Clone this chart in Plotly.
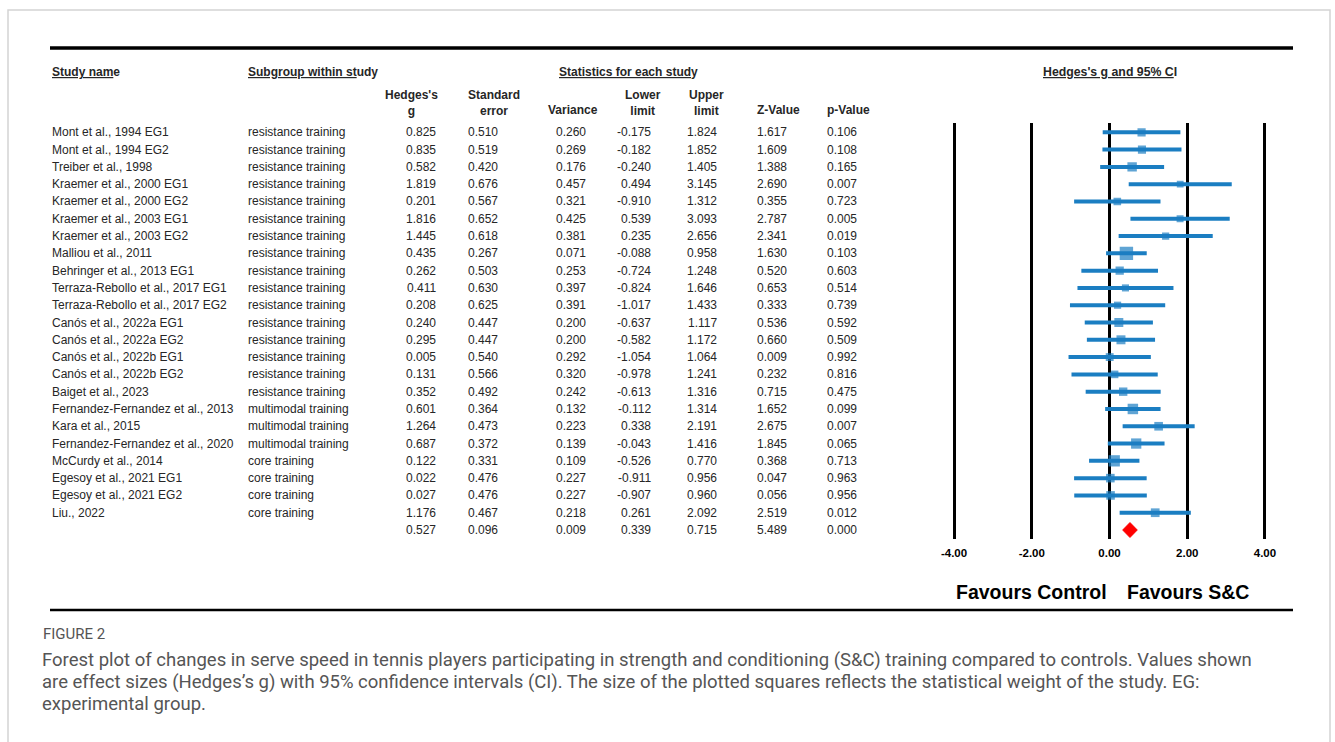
import plotly.graph_objects as go
import numpy as np

# ---------------- data ----------------
studies = [
    "Mont et al., 1994 EG1", "Mont et al., 1994 EG2", "Treiber et al., 1998",
    "Kraemer et al., 2000 EG1", "Kraemer et al., 2000 EG2", "Kraemer et al., 2003 EG1",
    "Kraemer et al., 2003 EG2", "Malliou et al., 2011", "Behringer et al., 2013 EG1",
    "Terraza-Rebollo et al., 2017 EG1", "Terraza-Rebollo et al., 2017 EG2",
    "Canós et al., 2022a EG1", "Canós et al., 2022a EG2", "Canós et al., 2022b EG1",
    "Canós et al., 2022b EG2", "Baiget et al., 2023", "Fernandez-Fernandez et al., 2013",
    "Kara et al., 2015", "Fernandez-Fernandez et al., 2020", "McCurdy et al., 2014",
    "Egesoy et al., 2021 EG1", "Egesoy et al., 2021 EG2", "Liu., 2022",
]
subgroups = ["resistance training"] * 16 + ["multimodal training"] * 3 + ["core training"] * 4
hedges_g = [0.825, 0.835, 0.582, 1.819, 0.201, 1.816, 1.445, 0.435, 0.262, 0.411, 0.208,
            0.240, 0.295, 0.005, 0.131, 0.352, 0.601, 1.264, 0.687, 0.122, 0.022, 0.027, 1.176]
std_err = [0.510, 0.519, 0.420, 0.676, 0.567, 0.652, 0.618, 0.267, 0.503, 0.630, 0.625,
           0.447, 0.447, 0.540, 0.566, 0.492, 0.364, 0.473, 0.372, 0.331, 0.476, 0.476, 0.467]
variance = [0.260, 0.269, 0.176, 0.457, 0.321, 0.425, 0.381, 0.071, 0.253, 0.397, 0.391,
            0.200, 0.200, 0.292, 0.320, 0.242, 0.132, 0.223, 0.139, 0.109, 0.227, 0.227, 0.218]
lower_limit = [-0.175, -0.182, -0.240, 0.494, -0.910, 0.539, 0.235, -0.088, -0.724, -0.824, -1.017,
               -0.637, -0.582, -1.054, -0.978, -0.613, -0.112, 0.338, -0.043, -0.526, -0.911, -0.907, 0.261]
upper_limit = [1.824, 1.852, 1.405, 3.145, 1.312, 3.093, 2.656, 0.958, 1.248, 1.646, 1.433,
               1.117, 1.172, 1.064, 1.241, 1.316, 1.314, 2.191, 1.416, 0.770, 0.956, 0.960, 2.092]
z_value = [1.617, 1.609, 1.388, 2.690, 0.355, 2.787, 2.341, 1.630, 0.520, 0.653, 0.333,
           0.536, 0.660, 0.009, 0.232, 0.715, 1.652, 2.675, 1.845, 0.368, 0.047, 0.056, 2.519]
p_value = [0.106, 0.108, 0.165, 0.007, 0.723, 0.005, 0.019, 0.103, 0.603, 0.514, 0.739,
           0.592, 0.509, 0.992, 0.816, 0.475, 0.099, 0.007, 0.065, 0.713, 0.963, 0.956, 0.012]

summary_g = 0.527
summary_se = 0.096
summary_var = 0.009
summary_lower = 0.339
summary_upper = 0.715
summary_z = 5.489
summary_p = 0.000

tick_vals = [-4, -2, 0, 2, 4]
tick_labels = ["-4.00", "-2.00", "0.00", "2.00", "4.00"]

# ---------------- layout helpers ----------------
W, H = 1335, 742
def xp(px):
    return px / W
def yp(py):
    return 1 - py / H

BLUE = "#1b7ec2"
TXT = "#262626"
FONT = "Liberation Sans, Arial, sans-serif"

n = len(studies)
rows = list(range(n))
summary_row = n

fig = go.Figure()

# CI lines
cx, cy = [], []
for r, lo, hi in zip(rows, lower_limit, upper_limit):
    cx += [lo, hi, None]
    cy += [r, r, None]
fig.add_trace(go.Scatter(x=cx, y=cy, mode="lines", line=dict(color=BLUE, width=4),
                         hoverinfo="skip", showlegend=False))

# squares sized by weight
weights = 1 / np.array(variance)
sizes = 2.5 + 2.9 * np.sqrt(weights)
fig.add_trace(go.Scatter(x=hedges_g, y=rows, mode="markers",
                         marker=dict(symbol="square", size=sizes, color=BLUE, line=dict(width=0)),
                         showlegend=False, hoverinfo="x"))

# summary diamond
dh = 0.43
fig.add_trace(go.Scatter(
    x=[summary_lower, summary_g, summary_upper, summary_g, summary_lower],
    y=[summary_row, summary_row - dh, summary_row, summary_row + dh, summary_row],
    mode="lines", fill="toself", fillcolor="#ff0000", line=dict(color="#ff0000", width=1),
    showlegend=False, hoverinfo="skip"))

fig.update_layout(
    width=W, height=H, autosize=False,
    margin=dict(l=0, r=0, t=0, b=0),
    paper_bgcolor="white", plot_bgcolor="rgba(0,0,0,0)",
    xaxis=dict(domain=[xp(934.6), xp(1284.4)], range=[-4.5, 4.5],
               tickvals=tick_vals, ticktext=["<b>%s</b>" % t for t in tick_labels],
               showgrid=True, gridcolor="black", gridwidth=2.5,
               zeroline=False, showline=False, ticks="", ticklabelstandoff=5,
               tickfont=dict(family=FONT, size=11.5, color="black")),
    yaxis=dict(domain=[yp(539), yp(122.7)], range=[23.52, -0.555], visible=False),
)

ann = []
def add(text, x, y, xanchor="left", yref="y", size=12, color=TXT, yanchor="middle", align="left"):
    ann.append(dict(text=text, x=x, y=y, xref="paper", yref=yref, xanchor=xanchor,
                    yanchor=yanchor, showarrow=False, align=align,
                    font=dict(family=FONT, size=size, color=color), borderpad=0))

# column right edges (px)
col_right = [437, 499, 587, 652, 718, 788, 858]
cols = [hedges_g, std_err, variance, lower_limit, upper_limit, z_value, p_value]
for r in rows:
    add(studies[r], xp(51), r)
    add(subgroups[r], xp(247), r)
    for cr, vals in zip(col_right, cols):
        add("%.3f" % vals[r], xp(cr), r, xanchor="right")
summary_vals = [summary_g, summary_se, summary_var, summary_lower, summary_upper, summary_z, summary_p]
for cr, v in zip(col_right, summary_vals):
    add("%.3f" % v, xp(cr), summary_row, xanchor="right")

# headers
add("<b><u>Study nam</u>e</b>", xp(51), yp(72), yref="paper")
add("<b><u>Subgroup within st</u>udy</b>", xp(247), yp(72), yref="paper")
add("<b><u>Statistics for each stud</u>y</b>", xp(628), yp(72), xanchor="center", yref="paper")
add("<b><u>Hedges's g and 95% C</u>I</b>", xp(1110), yp(72), xanchor="center", yref="paper", size=12.3)
two_line = [("Hedges's<br>g", 411), ("Standard<br>error", 494), ("Lower<br>limit", 643), ("Upper<br>limit", 706)]
for t, cx_ in two_line:
    add("<b>%s</b>" % t, xp(cx_), yp(103), xanchor="center", yref="paper", align="center")
for t, cx_ in [("Variance", 573), ("Z-Value", 778), ("p-Value", 848)]:
    add("<b>%s</b>" % t, xp(cx_), yp(110), xanchor="center", yref="paper")

# favours labels
add("<b>Favours Control</b>", xp(1108), yp(592), xanchor="right", yref="paper", size=19.5, color="black")
add("<b>Favours S&C</b>", xp(1126), yp(592), xanchor="left", yref="paper", size=19.5, color="black")

# caption
CAP = "Roboto, sans-serif"
ann.append(dict(text="FIGURE 2", x=xp(41), y=yp(634), xref="paper", yref="paper", xanchor="left",
                yanchor="middle", showarrow=False,
                font=dict(family="Liberation Sans Narrow, Roboto, sans-serif", size=15, color="#555555")))
cap_lines = [
    "Forest plot of changes in serve speed in tennis players participating in strength and conditioning (S&C) training compared to controls. Values shown",
    "are effect sizes (Hedges’s g) with 95% confidence intervals (CI). The size of the plotted squares reflects the statistical weight of the study. EG:",
    "experimental group.",
]
for i, line in enumerate(cap_lines):
    ann.append(dict(text=line, x=xp(40), y=yp(660 + 22 * i), xref="paper", yref="paper",
                    xanchor="left", yanchor="middle", showarrow=False,
                    font=dict(family=CAP, size=18.5, color="#555555")))

fig.update_layout(annotations=ann)

# rules and frame
fig.update_layout(shapes=[
    dict(type="rect", xref="paper", yref="paper", x0=xp(8), x1=xp(1330), y0=yp(760), y1=yp(10),
         line=dict(color="#d4d4d4", width=1.5), fillcolor="rgba(0,0,0,0)", layer="below"),
    dict(type="line", xref="paper", yref="paper", x0=xp(50), x1=xp(1293), y0=yp(48), y1=yp(48),
         line=dict(color="black", width=3.5)),
    dict(type="line", xref="paper", yref="paper", x0=xp(50), x1=xp(1293), y0=yp(610), y1=yp(610),
         line=dict(color="black", width=2.5)),
])

fig.write_html("out.html")
